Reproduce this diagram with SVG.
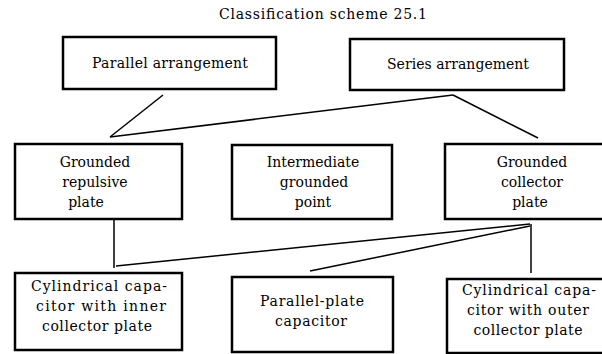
<svg xmlns="http://www.w3.org/2000/svg" width="602" height="354" viewBox="0 0 602 354">
<style>
.box{fill:#fff;stroke:#000;stroke-width:2.5}
.t{font-family:"DejaVu Serif","Liberation Serif",serif;font-size:14px;fill:#000;text-anchor:middle}
.c{stroke:#000;stroke-width:1.5;fill:none}
</style>
<rect width="602" height="354" fill="#fff"/>
<text class="t" x="323" y="19" textLength="208" lengthAdjust="spacing">Classification scheme 25.1</text>
<g id="connectors">
<line class="c" x1="163" y1="95" x2="110" y2="137"/>
<line class="c" x1="453" y1="95" x2="110" y2="137"/>
<line class="c" x1="453" y1="95" x2="538" y2="138"/>
<line class="c" x1="114" y1="219" x2="114" y2="268"/>
<line class="c" x1="530" y1="224" x2="116" y2="266"/>
<line class="c" x1="530" y1="226" x2="310" y2="271"/>
<line class="c" x1="531" y1="224" x2="531" y2="273"/>
</g>
<g id="parallel">
<rect class="box" x="63" y="37" width="213" height="52"/>
<text class="t" x="170" y="68" textLength="156" lengthAdjust="spacing">Parallel arrangement</text>
</g>
<g id="series">
<rect class="box" x="350" y="39" width="214" height="51"/>
<text class="t" x="458" y="69" textLength="142" lengthAdjust="spacing">Series arrangement</text>
</g>
<g id="repulsive">
<rect class="box" x="15" y="144" width="167" height="75"/>
<text class="t" x="95" y="167">Grounded</text>
<text class="t" x="95" y="187">repulsive</text>
<text class="t" x="86" y="207">plate</text>
</g>
<g id="intermediate">
<rect class="box" x="232" y="145" width="160" height="74"/>
<text class="t" x="313" y="167">Intermediate</text>
<text class="t" x="314" y="187">grounded</text>
<text class="t" x="313" y="207">point</text>
</g>
<g id="collector">
<rect class="box" x="445" y="144" width="174" height="75"/>
<text class="t" x="532" y="167">Grounded</text>
<text class="t" x="532" y="187">collector</text>
<text class="t" x="530" y="207">plate</text>
</g>
<g id="inner">
<rect class="box" x="15" y="273" width="167" height="77"/>
<text class="t" x="99" y="291" textLength="136" lengthAdjust="spacing">Cylindrical capa-</text>
<text class="t" x="101" y="311" textLength="130" lengthAdjust="spacing">citor  with inner</text>
<text class="t" x="97" y="331" textLength="110" lengthAdjust="spacing">collector plate</text>
</g>
<g id="parallelplate">
<rect class="box" x="232" y="277" width="161" height="75"/>
<text class="t" x="312" y="306" textLength="104" lengthAdjust="spacing">Parallel-plate</text>
<text class="t" x="311" y="326" textLength="72" lengthAdjust="spacing">capacitor</text>
</g>
<g id="outer">
<rect class="box" x="447" y="279" width="168" height="74"/>
<text class="t" x="529" y="295" textLength="134" lengthAdjust="spacing">Cylindrical capa-</text>
<text class="t" x="528" y="315" textLength="122" lengthAdjust="spacing">citor with outer</text>
<text class="t" x="528" y="335" textLength="109" lengthAdjust="spacing">collector plate</text>
</g>
</svg>
